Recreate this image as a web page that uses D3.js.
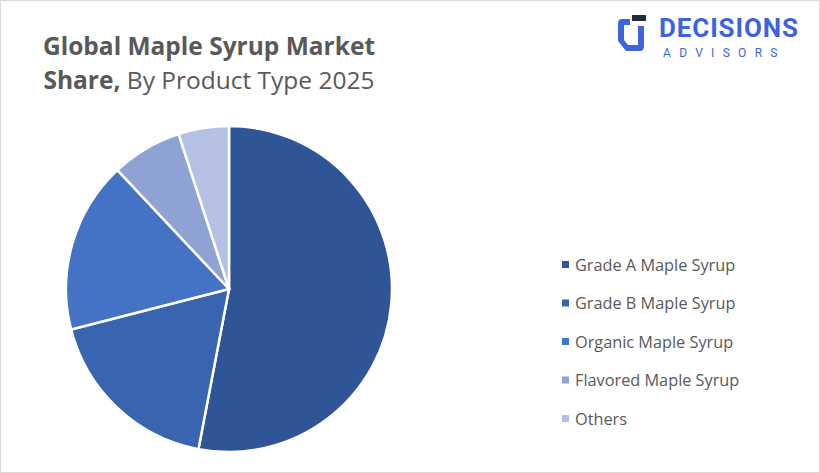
<!DOCTYPE html>
<html><head><meta charset="utf-8">
<script src="https://cdn.jsdelivr.net/npm/d3@7"></script>
<style>body{margin:0;background:#fff}</style>
</head><body><div id="container"></div>
<script>
const categories = ["Grade A Maple Syrup","Grade B Maple Syrup","Organic Maple Syrup","Flavored Maple Syrup","Others"];
const shares = [53, 18, 17, 7, 5];
const colors = ["#2F5597","#3864B0","#4472C4","#8FA2D4","#B4C1E4"];

const width = 820, height = 473;
const svg = d3.select("#container").append("svg")
  .attr("width", width).attr("height", height);

svg.append("rect").attr("x",0.5).attr("y",0.5).attr("width",width-1).attr("height",height-1)
  .attr("fill","#fff").attr("stroke","#d9d9d9");

// title
const title = svg.append("text").attr("text-anchor","middle")
  .attr("font-family","Open Sans, sans-serif").attr("font-size",24.5).attr("fill","#595959");
title.append("tspan").attr("x",209).attr("y",55).attr("font-weight","bold").text("Global Maple Syrup Market");
const t2 = title.append("tspan").attr("x",209).attr("y",89);
t2.append("tspan").attr("font-weight","bold").text("Share,");
t2.append("tspan").text(" By Product Type 2025");

// logo
const logo = svg.append("g").attr("transform","translate(618,15)");
logo.append("path").attr("d","M12 4 H4 Q0 4 0 9 V26 L8 36 H22 Q26 36 26 31 V11 H20 V30 H10 L6 25 V10 H12 Z").attr("fill","#3E63DD");
logo.append("rect").attr("x",14).attr("y",0).attr("width",14).attr("height",6).attr("fill","#1f2d3d");
svg.append("text").attr("x",659).attr("y",37).attr("font-family","Roboto, sans-serif")
  .attr("font-weight","bold").attr("font-size",26).attr("font-size-adjust",null)
  .attr("textLength",139).attr("fill","#3E63DD").text("DECISIONS");
svg.append("text").attr("x",663).attr("y",57).attr("font-family","Roboto, sans-serif")
  .attr("font-size",12).attr("letter-spacing",8.3).attr("fill","#3E63DD").text("ADVISORS");

// pie
const pie = d3.pie().sort(null).value(d => d)(shares);
const arc = d3.arc().innerRadius(0).outerRadius(163);
svg.append("g").attr("transform","translate(229,289)")
  .selectAll("path").data(pie).join("path")
  .attr("d", arc).attr("fill",(d,i)=>colors[i])
  .attr("stroke","#fff").attr("stroke-width",2.5);

// legend
const lg = svg.append("g").attr("transform","translate(562,265)");
const item = lg.selectAll("g").data(categories).join("g")
  .attr("transform",(d,i)=>`translate(0,${i*38.5})`);
item.append("rect").attr("x",0).attr("y",-4).attr("width",7).attr("height",7)
  .attr("fill",(d,i)=>colors[i]);
item.append("text").attr("x",13).attr("y",5.5).attr("font-family","Open Sans, sans-serif")
  .attr("font-size",16.3).attr("fill","#595959").text(d=>d);
</script></body></html>
